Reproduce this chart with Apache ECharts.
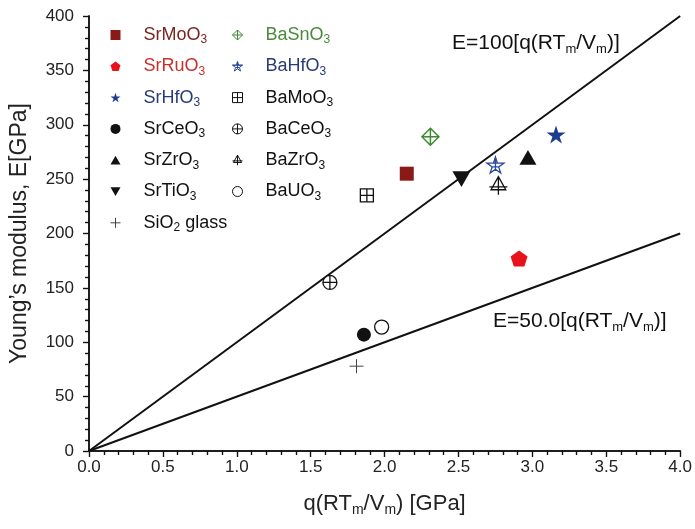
<!DOCTYPE html>
<html><head><meta charset="utf-8">
<script src="https://cdn.jsdelivr.net/npm/echarts@6/dist/echarts.min.js"></script>
<style>html,body{margin:0;padding:0;background:#fff}#c{width:695px;height:529px}</style>
</head><body><div id="c"></div>
<script>
// ---- data ----
const compounds = ['SrMoO3','SrRuO3','SrHfO3','SrCeO3','SrZrO3','SrTiO3','SiO2 glass','BaSnO3','BaHfO3','BaMoO3','BaCeO3','BaZrO3','BaUO3'];
const qValues   = [2.15, 2.91, 3.16, 1.86, 2.97, 2.52, 1.81, 2.31, 2.75, 1.88, 1.63, 2.77, 1.98];
const eValues   = [255, 177, 291, 107, 270, 250, 78, 289, 263, 235, 155, 244, 114];
const legendCol1 = ['SrMoO3','SrRuO3','SrHfO3','SrCeO3','SrZrO3','SrTiO3','SiO2 glass'];
const legendCol2 = ['BaSnO3','BaHfO3','BaMoO3','BaCeO3','BaZrO3','BaUO3'];
const lineSlopes = [100, 50];
const lineXRange = [0, 4];

// ---- styles ----
const P = {
  square: 'path://M-1,-1 L1,-1 L1,1 L-1,1 Z',
  squareCross: 'path://M-1,-1 L1,-1 L1,1 L-1,1 Z M0,-1 L0,1 M-1,0 L1,0',
  diamondCross: 'path://M0,-1 L1,0 L0,1 L-1,0 Z M-1,0 L1,0 M0,-1 L0,1',
  pentagon: 'path://M0,-1 L0.951,-0.309 L0.588,0.809 L-0.588,0.809 L-0.951,-0.309 Z',
  star: 'path://M0,-1 L0.2245,-0.309 L0.951,-0.309 L0.363,0.118 L0.588,0.809 L0,0.382 L-0.588,0.809 L-0.363,0.118 L-0.951,-0.309 L-0.2245,-0.309 Z',
  starLined: 'path://M0,-1 L0.2245,-0.309 L0.951,-0.309 L0.363,0.118 L0.588,0.809 L0,0.382 L-0.588,0.809 L-0.363,0.118 L-0.951,-0.309 L-0.2245,-0.309 Z M-0.951,-0.309 L0.951,-0.309 M-0.363,0.118 L0.363,0.118 M0,-1 L0,0.382',
  circle: 'path://M-1,0 A1,1 0 1,1 1,0 A1,1 0 1,1 -1,0 Z',
  circleCross: 'path://M-1,0 A1,1 0 1,1 1,0 A1,1 0 1,1 -1,0 Z M-1,0 L1,0 M0,-1 L0,1',
  triUp: 'path://M0,-1 L1,0.75 L-1,0.75 Z',
  triDown: 'path://M-1,-0.75 L1,-0.75 L0,1 Z',
  triCross: 'path://M0,-1 L0.9,0.6 L-0.9,0.6 Z M-1.1,0.25 L1.1,0.25 M0,-1 L0,1.2',
  plus: 'path://M-1,0 L1,0 M0,-1 L0,1'
};
const styleMap = {
  'SrMoO3':    {symbol: P.square, size: 14, fill: '#8a1a16', stroke: '#8a1a16', bw: 0, text: '#7a2520'},
  'SrRuO3':    {symbol: P.pentagon, size: 17, fill: '#e8121b', stroke: '#e8121b', bw: 0, text: '#c8302c'},
  'SrHfO3':    {symbol: P.star, size: 19, fill: '#1c3c90', stroke: '#1c3c90', bw: 0, text: '#283a78'},
  'SrCeO3':    {symbol: P.circle, size: 14, fill: '#111', stroke: '#111', bw: 0, text: '#111'},
  'SrZrO3':    {symbol: P.triUp, size: 17, fill: '#111', stroke: '#111', bw: 0, text: '#111'},
  'SrTiO3':    {symbol: P.triDown, size: 18, fill: '#111', stroke: '#111', bw: 0, text: '#111'},
  'SiO2 glass':{symbol: P.plus, size: 14, fill: 'none', stroke: '#444', bw: 1, text: '#111'},
  'BaSnO3':    {symbol: P.diamondCross, size: 17, fill: '#fff', stroke: '#3d8a30', bw: 1.5, text: '#4a8a3a'},
  'BaHfO3':    {symbol: P.starLined, size: 17, fill: '#fff', stroke: '#2a4a9c', bw: 1.3, text: '#283a78'},
  'BaMoO3':    {symbol: P.squareCross, size: 13, fill: '#fff', stroke: '#111', bw: 1.3, text: '#111'},
  'BaCeO3':    {symbol: P.circleCross, size: 14, fill: '#fff', stroke: '#111', bw: 1.3, text: '#111'},
  'BaZrO3':    {symbol: P.triCross, size: 18, fill: '#fff', stroke: '#111', bw: 1.3, text: '#111'},
  'BaUO3':     {symbol: P.circle, size: 14, fill: '#fff', stroke: '#111', bw: 1.3, text: '#111'}
};
const FONT = '"Liberation Sans", Arial, sans-serif';
const subRich = {s: {fontSize: 12, lineHeight: 12, verticalAlign: 'bottom', fontFamily: FONT}};
function fmtName(n) {
  return n.replace(/O3$/, 'O{s|3}').replace('SiO2', 'SiO{s|2}');
}

const series = compounds.map((name, i) => {
  const st = styleMap[name];
  return {
    type: 'scatter', name: name, z: 5,
    symbol: st.symbol, symbolSize: st.size, symbolKeepAspect: true,
    itemStyle: {color: st.fill, borderColor: st.stroke, borderWidth: st.bw, opacity: 1},
    data: [[qValues[i], eValues[i]]]
  };
});
lineSlopes.forEach((k, i) => {
  series.push({
    type: 'line', name: 'line' + i, symbol: 'none', silent: true, z: 3,
    lineStyle: {color: '#111', width: 2},
    data: lineXRange.map(x => [x, k * x])
  });
});

function legendItems(list) {
  return list.map(n => {
    const st = styleMap[n];
    return {
      name: n, icon: st.symbol,
      itemStyle: {color: st.fill, borderColor: st.stroke, borderWidth: st.bw ? 1 : 0},
      textStyle: {color: st.text, rich: subRich}
    };
  });
}
const legendBase = {
  orient: 'vertical', top: 24, itemWidth: 10, itemHeight: 10, itemGap: 9.3, padding: 0,
  selectedMode: false, symbolKeepAspect: true, formatter: fmtName,
  textStyle: {fontSize: 18, lineHeight: 22, fontFamily: FONT, padding: [0, 0, 0, 18], rich: subRich}
};

const chart = echarts.init(document.getElementById('c'), null, {renderer: 'canvas'});
const axisLine = {show: true, lineStyle: {color: '#111', width: 1.5}};
const tickStyle = {color: '#111', width: 1.2};
const nameRich = {s: {fontSize: 14, lineHeight: 14, verticalAlign: 'bottom', fontFamily: FONT}};
chart.setOption({
  animation: false,
  backgroundColor: '#fff',
  grid: {left: 89, right: 13, top: 16, bottom: 78},
  legend: [
    Object.assign({}, legendBase, {left: 108, data: legendItems(legendCol1)}),
    Object.assign({}, legendBase, {left: 232, data: legendItems(legendCol2)})
  ],
  xAxis: [{
    type: 'value', min: 0, max: 4, interval: 0.5, position: 'bottom',
    axisLine: axisLine, splitLine: {show: false},
    axisTick: {show: true, inside: false, length: 6, lineStyle: tickStyle},
    minorTick: {show: true, splitNumber: 5, length: 4, lineStyle: tickStyle},
    axisLabel: {fontSize: 17, color: '#222', margin: 8, fontFamily: FONT, formatter: v => v.toFixed(1)},
    name: 'q(RT{s|m}/V{s|m}) [GPa]', nameLocation: 'middle', nameGap: 40,
    nameTextStyle: {fontSize: 22, color: '#222', fontFamily: FONT, lineHeight: 26, rich: nameRich}
  }, {
    type: 'value', min: 0, max: 4, interval: 0.5, position: 'top',
    axisLine: axisLine, splitLine: {show: false},
    axisTick: {show: true, inside: true, length: 6, lineStyle: tickStyle},
    minorTick: {show: true, splitNumber: 5, length: 4, lineStyle: tickStyle},
    axisLabel: {show: false}
  }],
  yAxis: [{
    type: 'value', min: 0, max: 400, interval: 50, position: 'left',
    axisLine: axisLine, splitLine: {show: false},
    axisTick: {show: true, inside: false, length: 6, lineStyle: tickStyle},
    minorTick: {show: true, splitNumber: 5, length: 4, lineStyle: tickStyle},
    axisLabel: {fontSize: 17, color: '#222', margin: 15, fontFamily: FONT},
    name: 'Young’s modulus, E[GPa]', nameLocation: 'middle', nameGap: 58,
    nameTextStyle: {fontSize: 23, color: '#222', fontFamily: FONT}
  }, {
    type: 'value', min: 0, max: 400, interval: 50, position: 'right',
    axisLine: axisLine, splitLine: {show: false},
    axisTick: {show: true, inside: true, length: 6, lineStyle: tickStyle},
    minorTick: {show: true, splitNumber: 5, length: 4, lineStyle: tickStyle},
    axisLabel: {show: false}
  }],
  graphic: [
    {type: 'text', left: 452, top: 30, z: 10, style: {text: 'E=100[q(RT{s|m}/V{s|m})]', fill: '#111',
      font: '21px ' + FONT, lineHeight: 26, rich: {s: {fontSize: 13, lineHeight: 13, verticalAlign: 'bottom'}}}},
    {type: 'text', left: 493, top: 308, z: 10, style: {text: 'E=50.0[q(RT{s|m}/V{s|m})]', fill: '#111',
      font: '21px ' + FONT, lineHeight: 26, rich: {s: {fontSize: 13, lineHeight: 13, verticalAlign: 'bottom'}}}}
  ],
  series: series
});
</script></body></html>
